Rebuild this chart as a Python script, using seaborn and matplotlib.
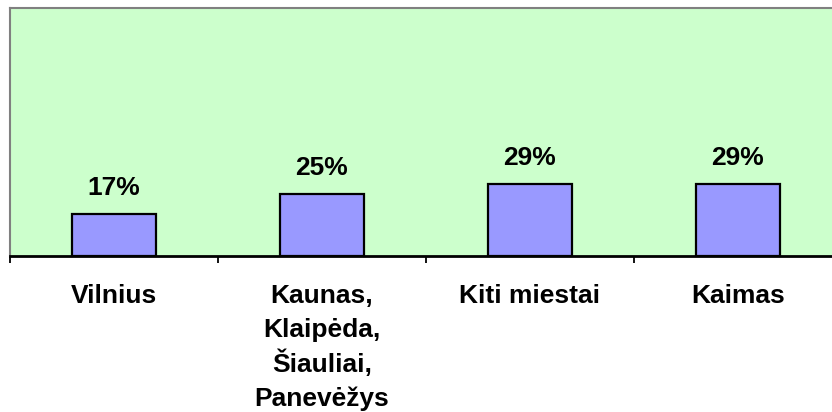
import matplotlib
matplotlib.use("Agg")
import matplotlib.pyplot as plt
import seaborn as sns
import pandas as pd

categories = ["Vilnius", "Kaunas,\nKlaipėda,\nŠiauliai,\nPanevėžys", "Kiti miestai", "Kaimas"]
values = [17, 25, 29, 29]
value_labels = ["17%", "25%", "29%", "29%"]


def main():
    sns.set_style("white")
    plt.rcParams["font.family"] = ["Liberation Sans", "DejaVu Sans"]
    plt.rcParams["text.color"] = "black"
    plt.rcParams["xtick.color"] = "black"

    df = pd.DataFrame({"category": categories, "value": values})

    fig = plt.figure(figsize=(8.32, 4.12), dpi=100)
    ax = fig.add_axes([10 / 832, 156 / 412, 822 / 832, 248 / 412])
    ax.set_facecolor("#CCFFCC")

    sns.barplot(data=df, x="category", y="value", color="#9999FF", width=0.4,
                edgecolor="black", linewidth=1.6, saturation=1, ax=ax)

    for i, (v, lab) in enumerate(zip(values, value_labels)):
        ax.annotate(lab, (i, v), xytext=(0, 13.7), textcoords="offset points",
                    ha="center", va="baseline", fontsize=19, fontweight="bold",
                    color="black")

    ax.set_ylim(0, 100)
    ax.set_xlim(-0.5, -0.5 + 822 / 208)
    ax.set_xlabel("")
    ax.set_ylabel("")
    ax.set_yticks([])

    # category labels: one text per line so the line spacing stays even
    ax.set_xticks(range(len(categories)))
    ax.set_xticklabels([""] * len(categories))
    trans = ax.get_xaxis_transform()
    for i, cat in enumerate(categories):
        for k, line in enumerate(cat.split("\n")):
            ax.annotate(line, (i, 0), xycoords=trans, xytext=(0, -33.8 - 24.8 * k),
                        textcoords="offset points", ha="center", va="baseline",
                        fontsize=19, fontweight="bold", color="black",
                        annotation_clip=False)

    ax.set_xticks([-0.5, 0.5, 1.5, 2.5], minor=True)
    ax.tick_params(axis="x", which="major", length=0)
    ax.tick_params(axis="x", which="minor", length=5, width=1.3, color="black", direction="out", bottom=True)

    for side in ["left", "top"]:
        ax.spines[side].set_color("#808080")
        ax.spines[side].set_linewidth(1.5)
    ax.spines["right"].set_visible(False)
    ax.spines["bottom"].set_color("black")
    ax.spines["bottom"].set_linewidth(2)

    fig.savefig("out.png", dpi=100, facecolor="white")
    plt.close(fig)


if __name__ == "__main__":
    main()
